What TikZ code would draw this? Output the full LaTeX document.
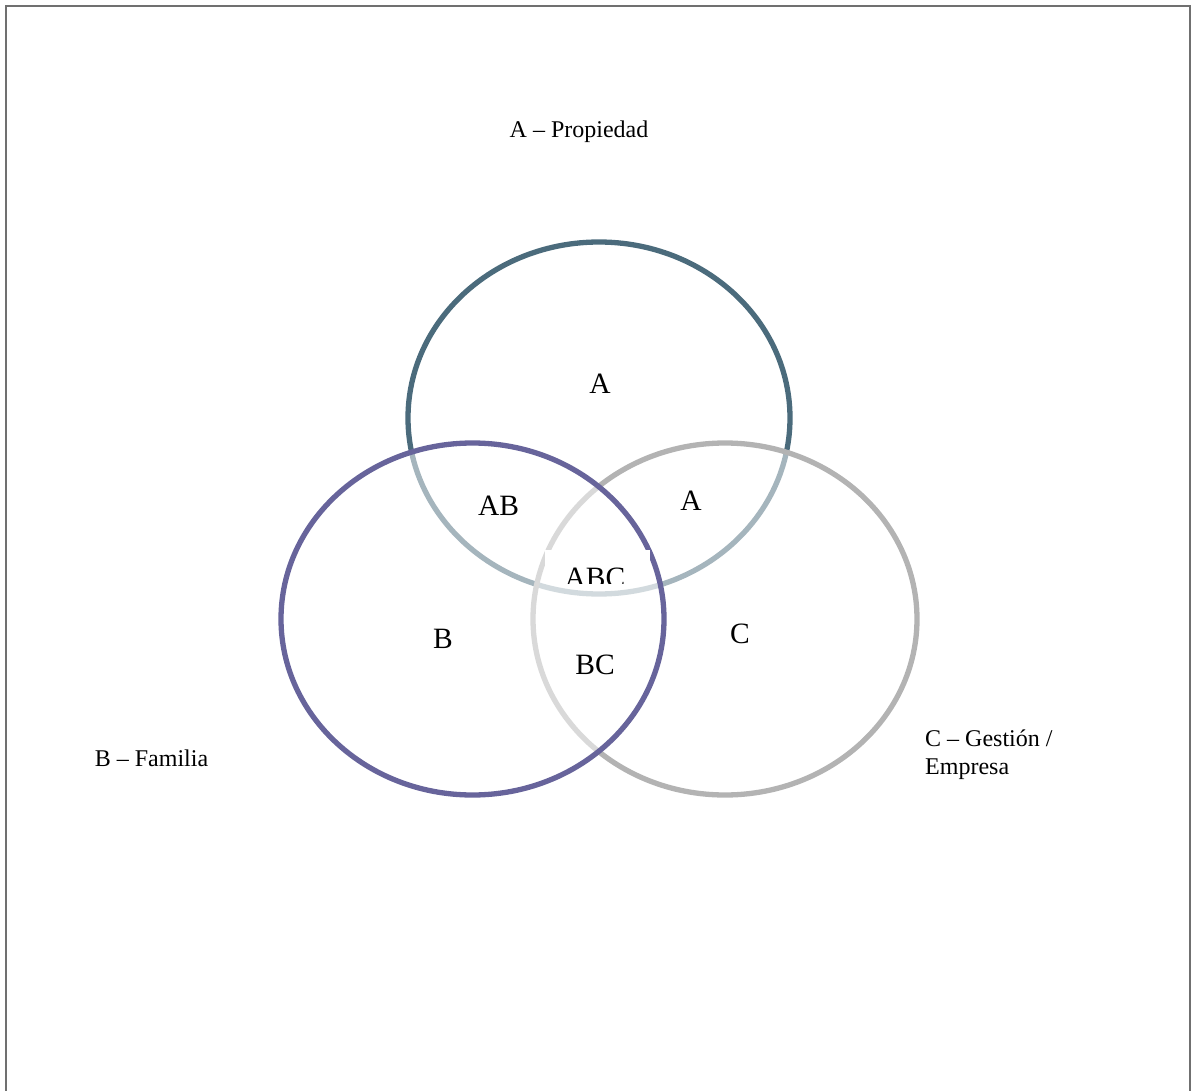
\documentclass[tikz,border=0pt]{standalone}
\usepackage{fontspec}
\setmainfont{Liberation Serif}
\definecolor{colA}{HTML}{4B6B7C}
\definecolor{colB}{HTML}{67649B}
\definecolor{colC}{HTML}{B3B3B3}
\definecolor{frameC}{HTML}{707070}
\tikzset{
  ring/.style={line width=5.3pt},
  veil/.style={fill=white, fill opacity=0.5},
  biglbl/.style={font=\fontsize{29.5}{34}\selectfont, anchor=base, inner sep=0pt},
  setlbl/.style={font=\fontsize{24}{27.8}\selectfont, inner sep=0pt},
}
\begin{document}
\begin{tikzpicture}[x=1pt, y=-1pt]
\useasboundingbox (0,0) rectangle (1191,1091);
% frame
\draw[frameC, line width=2pt] (5.5,1092) -- (5.5,6) -- (1190,6) -- (1190,1092);
% circle A
\draw[ring, colA] (599,418) ellipse [x radius=191, y radius=176];
% circle C
\fill[veil] (725,619) ellipse [x radius=192, y radius=176];
\draw[ring, colC] (725,619) ellipse [x radius=192, y radius=176];
% circle B
\fill[veil] (472.5,619) ellipse [x radius=191.5, y radius=176];
\draw[ring, colB] (472.5,619) ellipse [x radius=191.5, y radius=176];
% region labels
\node[biglbl] (lA)  at (600,393) {A};
\node[biglbl] (lAB) at (498.5,515) {AB};
\node[biglbl] (lAC) at (691,510) {A};
\node[biglbl] (lB)  at (443,648) {B};
\node[biglbl] (lBC) at (595,674) {BC};
\node[biglbl] (lC)  at (740,643.5) {C};
% ABC box (clipped text)
\fill[white] (545,550) rectangle (650,583);
\begin{scope}
\clip (545,550) rectangle (650,583);
\node[biglbl] (lABC) at (595,587) {ABC};
\end{scope}
% set labels
\node[setlbl, anchor=base] (setA) at (579,137.5) {A – Propiedad};
\node[setlbl, anchor=base] (setB) at (151.5,766.5) {B – Familia};
\node[setlbl, anchor=base west] (setC) at (925,746.5) {\parbox[t]{6cm}{\raggedright C – Gestión /\\Empresa}};
\end{tikzpicture}
\end{document}
